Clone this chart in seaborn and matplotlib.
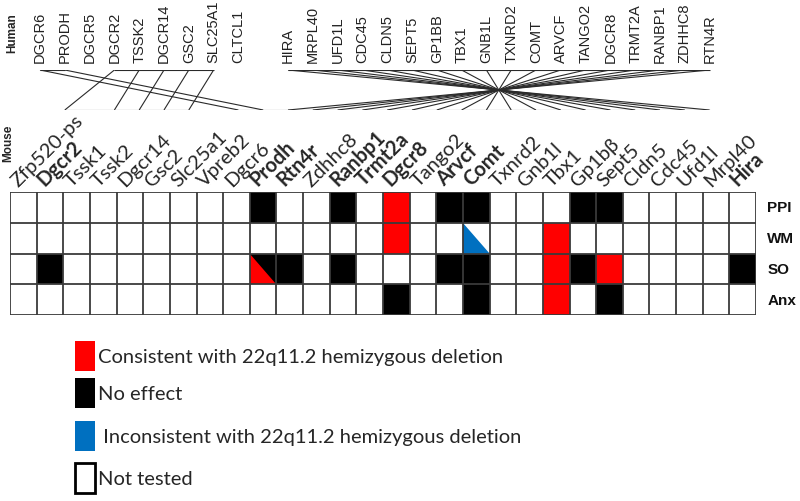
import matplotlib
matplotlib.use("Agg")
import matplotlib.pyplot as plt
from matplotlib.colors import ListedColormap
from matplotlib.patches import Polygon, Rectangle
import numpy as np
import pandas as pd
import seaborn as sns

# %% Data
human_genes = ["DGCR6", "PRODH", "DGCR5", "DGCR2", "TSSK2", "DGCR14", "GSC2", "SLC25A1", "CLTCL1", "",
               "HIRA", "MRPL40", "UFD1L", "CDC45", "CLDN5", "SEPT5", "GP1BB", "TBX1", "GNB1L",
               "TXNRD2", "COMT", "ARVCF", "TANGO2", "DGCR8", "TRMT2A", "RANBP1", "ZDHHC8", "RTN4R"]
mouse_genes = ["Zfp520-ps", "Dgcr2", "Tssk1", "Tssk2", "Dgcr14", "Gsc2", "Slc25a1", "Vpreb2", "Dgcr6",
               "Prodh", "Rtn4r", "Zdhhc8", "Ranbp1", "Trmt2a", "Dgcr8", "Tango2", "Arvcf", "Comt",
               "Txnrd2", "Gnb1l", "Tbx1", "Gp1bβ", "Sept5", "Cldn5", "Cdc45", "Ufd1l", "Mrpl40", "Hira"]
bold_genes = ["Dgcr2", "Prodh", "Rtn4r", "Ranbp1", "Trmt2a", "Dgcr8", "Arvcf", "Comt", "Hira"]
orthologs = {"GP1BB": "Gp1bβ"}
human_blocks = [("DGCR6", "PRODH"), ("DGCR2", "SLC25A1"), ("HIRA", "RTN4R")]
mouse_blocks = [("Dgcr2", "Slc25a1"), ("Dgcr6", "Hira")]

behaviours = ["PPI", "WM", "SO", "Anx"]
# 0 = not tested, 1 = consistent, 2 = no effect, 3 = inconsistent
ppi = [0, 0, 0, 0, 0, 0, 0, 0, 0, 2, 0, 0, 2, 0, 1, 0, 2, 2, 0, 0, 0, 2, 2, 0, 0, 0, 0, 0]
wm  = [0, 0, 0, 0, 0, 0, 0, 0, 0, 0, 0, 0, 0, 0, 1, 0, 0, 0, 0, 0, 1, 0, 0, 0, 0, 0, 0, 0]
so  = [0, 2, 0, 0, 0, 0, 0, 0, 0, 2, 2, 0, 2, 0, 0, 0, 2, 2, 0, 0, 1, 2, 1, 0, 0, 0, 0, 2]
anx = [0, 0, 0, 0, 0, 0, 0, 0, 0, 0, 0, 0, 0, 0, 2, 0, 0, 2, 0, 0, 1, 0, 2, 0, 0, 0, 0, 0]
# cells split diagonally: lower-left triangle gets this code
split_cells = [("WM", "Comt", 3), ("SO", "Prodh", 1)]

legend_labels = ["Consistent with 22q11.2 hemizygous deletion", "No effect",
                 " Inconsistent with 22q11.2 hemizygous deletion", "Not tested"]
colors = ["#ffffff", "#ff0000", "#000000", "#0070c0"]
legend_codes = [1, 2, 3, 0]

# %% Figure
sns.set_style("white")
plt.rcParams["font.family"] = ["Lato", "DejaVu Sans"]
fig = plt.figure(figsize=(8, 5.02), dpi=100)
W, H = 800, 502

# synteny lines (top)
ax_syn = fig.add_axes([0, (H - 111) / H, 1, 40 / H])
ax_syn.set_xlim(-40 / 24.8, (W - 40) / 24.8)
ax_syn.set_ylim(1, 0)
ax_syn.axis("off")
line_kw = dict(color="#2a2a2a", lw=0.8, solid_capstyle="butt")
for i, h in enumerate(human_genes):
    if not h:
        continue
    ax_syn.text(i, -0.2, h, rotation=90, ha="center", va="bottom", fontsize=10.5,
                family="Liberation Sans", color="#222222")
    m = orthologs.get(h, h.capitalize())
    if m in mouse_genes:
        ax_syn.plot([i, mouse_genes.index(m)], [0, 1], **line_kw)
for a, b in human_blocks:
    ax_syn.plot([human_genes.index(a), human_genes.index(b)], [0, 0], **line_kw)
for a, b in mouse_blocks:
    ax_syn.plot([mouse_genes.index(a), mouse_genes.index(b)], [1, 1], **line_kw)
ax_syn.text(-1.13, -0.95, "Human", rotation=90, ha="center", va="center", fontsize=8.5,
            fontweight="bold", family="Liberation Sans")

# heatmap grid
df = pd.DataFrame([ppi, wm, so, anx], index=behaviours, columns=mouse_genes)
ax = fig.add_axes([10 / W, (H - 316) / H, 746 / W, 123 / H])
sns.heatmap(df, ax=ax, cmap=ListedColormap(colors), vmin=-0.5, vmax=3.5, cbar=False,
            linewidths=0, xticklabels=False, yticklabels=False)
for b, g, code in split_cells:
    r, c = behaviours.index(b), mouse_genes.index(g)
    ax.add_patch(Polygon([(c, r), (c, r + 1), (c + 1, r + 1)], closed=True,
                         facecolor=colors[code], edgecolor="none"))
ax.vlines(np.arange(len(mouse_genes) + 1), 0, len(behaviours), color="#3a3a3a", lw=1.3)
ax.hlines(np.arange(len(behaviours) + 1), 0, len(mouse_genes), color="#3a3a3a", lw=1.3)
ax.set_xlabel("")
ax.set_ylabel("")
for c, g in enumerate(mouse_genes):
    ax.text(c + 0.4, -0.1, g, rotation=45, rotation_mode="anchor", ha="left", va="bottom",
            fontsize=14.5, fontweight="bold" if g in bold_genes else "normal", clip_on=False)
for r, b in enumerate(behaviours):
    ax.text(len(mouse_genes) + 0.42, r + 0.5, b, ha="left", va="center", fontsize=11,
            fontweight="bold", family="Liberation Sans", color="#111111")
fig.text(8 / W, 1 - 143 / H, "Mouse", rotation=90, ha="center", va="center", fontsize=8.5,
         fontweight="bold", family="Liberation Sans")

# legend
ax_leg = fig.add_axes([0, 0, 1, 1], zorder=-1)
ax_leg.set_xlim(0, W)
ax_leg.set_ylim(H, 0)
ax_leg.axis("off")
tops = [342, 379, 422, 464]
for top, lab, code in zip(tops, legend_labels, legend_codes):
    ax_leg.add_patch(Rectangle((75, top), 20, 30, facecolor=colors[code],
                               edgecolor="black" if code == 0 else "none", lw=2))
    ax_leg.text(98, top + 16, lab, ha="left", va="center", fontsize=14.5)

fig.savefig("out.png", dpi=100)
